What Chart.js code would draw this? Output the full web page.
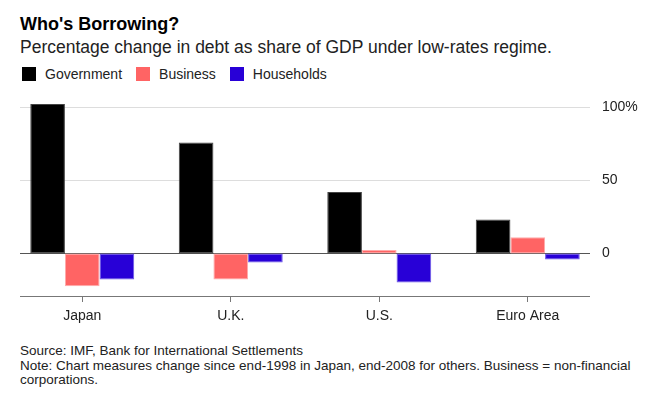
<!DOCTYPE html>
<html>
<head>
<meta charset="utf-8">
<script src="https://cdn.jsdelivr.net/npm/chart.js@4"></script>
<style>
  body { margin: 0; background: #fff; font-family: "Liberation Sans", Arial, sans-serif; color: #000; }
  #wrap { position: relative; width: 654px; height: 404px; }
  .title { position: absolute; left: 20px; top: 14px; font-size: 18px; font-weight: bold; }
  .subtitle { position: absolute; left: 20px; top: 37px; font-size: 17.5px; color: #222; }
  .legend { position: absolute; left: 22px; top: 66px; font-size: 14px; color: #222; display: flex; }
  .legend-item { display: flex; align-items: center; margin-right: 14px; }
  .legend-box { width: 14px; height: 14px; margin-right: 9px; }
  .chart-box { position: absolute; left: 0; top: 90px; width: 654px; height: 240px; }
  .footer { position: absolute; left: 20px; top: 344px; font-size: 13.5px; line-height: 14.5px; color: #222; }
</style>
</head>
<body>
<div id="wrap">
  <div class="title">Who's Borrowing?</div>
  <div class="subtitle">Percentage change in debt as share of GDP under low-rates regime.</div>
  <div class="legend" id="legend"></div>
  <div class="chart-box"><canvas id="chart"></canvas></div>
  <div class="footer">Source: IMF, Bank for International Settlements<br>Note: Chart measures change since end-1998 in Japan, end-2008 for others. Business = non-financial<br>corporations.</div>
</div>
<script>
const categories = ['Japan', 'U.K.', 'U.S.', 'Euro Area'];
const government = [102, 75.7, 42, 23.2];
const business = [-22.3, -17.7, 2.3, 11.1];
const households = [-17.7, -6.1, -19.8, -4.1];
const tickValues = [0, 50, 100];

const seriesNames = ['Government', 'Business', 'Households'];
const fillColors = ['#000000', '#ff6464', '#2800d7'];
const edgeColors = ['#444444', '#ffaaaa', '#6a55e6'];

const legend = document.getElementById('legend');
seriesNames.forEach((name, i) => {
    const item = document.createElement('div');
    item.className = 'legend-item';
    const box = document.createElement('div');
    box.className = 'legend-box';
    box.style.background = fillColors[i];
    const text = document.createElement('span');
    text.textContent = name;
    item.appendChild(box);
    item.appendChild(text);
    legend.appendChild(item);
});

// gridlines and axis lines are inset from the bar area, like the original
const gridPlugin = {
    id: 'insetGrid',
    beforeDatasetsDraw(chart) {
        const ctx = chart.ctx;
        const y = chart.scales.y;
        const x0 = 20, x1 = 590;
        ctx.save();
        ctx.lineWidth = 1;
        tickValues.forEach(v => {
            if (v === 0) return;
            const py = Math.round(y.getPixelForValue(v)) + 0.5;
            ctx.strokeStyle = '#dddddd';
            ctx.beginPath();
            ctx.moveTo(x0, py);
            ctx.lineTo(x1, py);
            ctx.stroke();
        });
        const pz = Math.round(y.getPixelForValue(0)) + 0.5;
        ctx.strokeStyle = '#555555';
        ctx.beginPath();
        ctx.moveTo(x0, pz);
        ctx.lineTo(x1, pz);
        ctx.stroke();
        const pb = Math.round(chart.chartArea.bottom) + 0.5;
        ctx.strokeStyle = '#777777';
        ctx.beginPath();
        ctx.moveTo(x0, pb);
        ctx.lineTo(x1, pb);
        ctx.stroke();
        ctx.restore();
    }
};

new Chart(document.getElementById('chart'), {
    type: 'bar',
    data: {
        labels: categories,
        datasets: [government, business, households].map((vals, i) => ({
            label: seriesNames[i],
            data: vals,
            backgroundColor: fillColors[i],
            borderColor: edgeColors[i],
            borderWidth: 1,
            borderSkipped: false,
            categoryPercentage: 0.7,
            barPercentage: 1
        }))
    },
    options: {
        responsive: true,
        maintainAspectRatio: false,
        animation: false,
        layout: { padding: { left: 8, top: 11, right: 0, bottom: 0 } },
        plugins: {
            legend: { display: false },
            tooltip: { enabled: false }
        },
        scales: {
            x: {
                grid: {
                    offset: false,
                    drawOnChartArea: false,
                    drawTicks: true,
                    tickLength: 6,
                    color: '#777777'
                },
                border: { display: false },
                ticks: {
                    padding: 6,
                    color: '#222',
                    font: { family: 'Liberation Sans', size: 14 }
                },
                afterFit: s => { s.height = 34; }
            },
            y: {
                position: 'right',
                min: -29,
                max: 104,
                afterBuildTicks: s => { s.ticks = tickValues.map(v => ({ value: v })); },
                grid: { display: false, drawTicks: false },
                border: { display: false },
                ticks: {
                    padding: 0,
                    color: '#222',
                    font: { family: 'Liberation Sans', size: 14 },
                    callback: v => v === 100 ? '100%' : String(v)
                },
                afterFit: s => { s.width = 52; }
            }
        }
    },
    plugins: [gridPlugin]
});
</script>
</body>
</html>
